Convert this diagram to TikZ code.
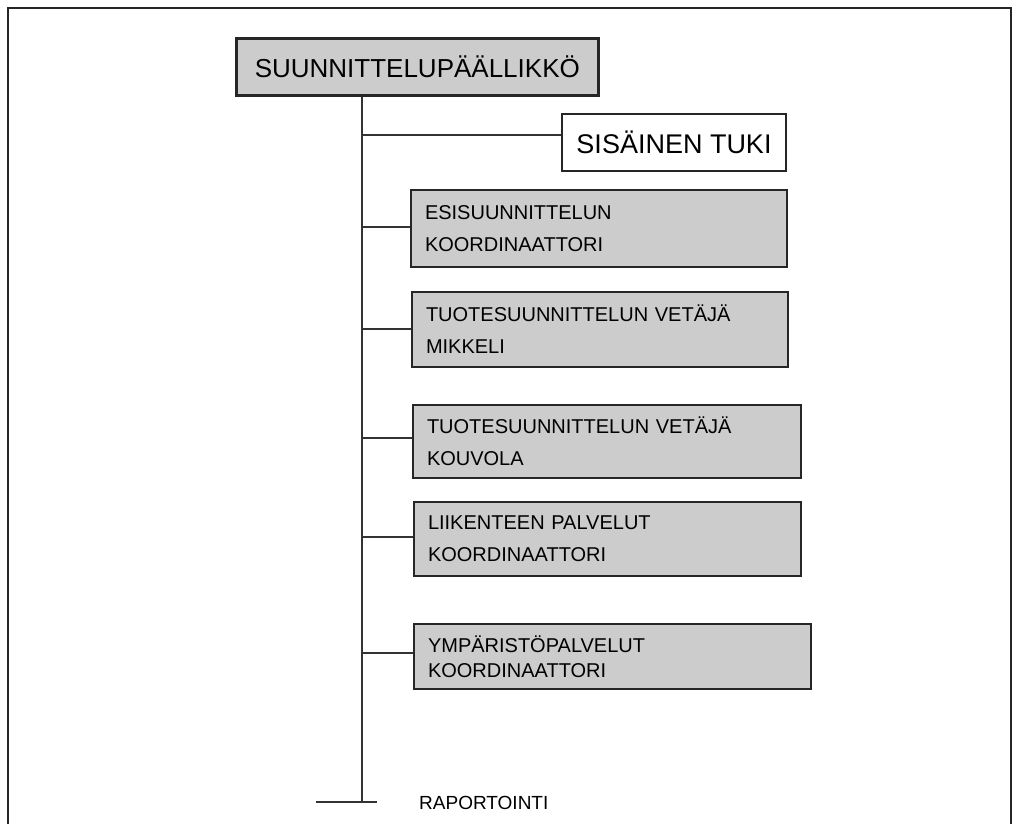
\documentclass[tikz,border=0pt]{standalone}
\usepackage{fontspec}
\setmainfont{Liberation Sans}
\usetikzlibrary{positioning}

\begin{document}
\begin{tikzpicture}[
  x=1pt,y=-1pt,
  box/.style={draw=black!85,line width=2pt,inner sep=0pt,anchor=north west},
  head/.style={box,line width=2.6pt,fill=black!20,minimum width=362pt,
    minimum height=57pt,font=\fontsize{26}{30}\selectfont},
  plain/.style={box,fill=white,minimum width=224pt,minimum height=57pt,
    font=\fontsize{27}{30}\selectfont},
  unit/.style={box,fill=black!20,align=left,inner xsep=14pt,text width=#1,
    font=\fontsize{20}{32}\selectfont},
  link/.style={draw=black!80,line width=1.5pt},
  frame/.style={draw=black!85,line width=2pt}
]
\path[use as bounding box] (0,0) rectangle (1017,824);
\draw[frame] (8,824) -- (8,8) -- (1011,8) -- (1011,824);

\node[head] (chief) at (235,37) {SUUNNITTELUPÄÄLLIKKÖ};
\node[plain] (support) at (561,113) {SISÄINEN TUKI};
\node[unit=348pt,minimum height=77pt] (pre) at (410,189)
  {ESISUUNNITTELUN\\KOORDINAATTORI};
\node[unit=348pt,minimum height=75pt] (mikkeli) at (411,291)
  {TUOTESUUNNITTELUN VETÄJÄ\\MIKKELI};
\node[unit=360pt,minimum height=73pt] (kouvola) at (412,404)
  {TUOTESUUNNITTELUN VETÄJÄ\\KOUVOLA};
\node[unit=359pt,minimum height=74pt] (traffic) at (413,501)
  {LIIKENTEEN PALVELUT\\KOORDINAATTORI};
\node[unit=369pt,minimum height=65pt] (env) at (413,623)
  {YMPÄRISTÖPALVELUT\\[-7pt]KOORDINAATTORI};

\coordinate (foot) at (362,802);
\draw[link] (chief.south -| foot) -- (foot);
\foreach \y/\n in {135/support,227/pre,329/mikkeli,438/kouvola,537/traffic,653/env}
  \draw[link] (foot |- 0,\y) -- (\n.west |- 0,\y);
\draw[link] ([xshift=-46pt]foot) -- ([xshift=15pt]foot);
\node[anchor=base west,inner sep=0pt,font=\fontsize{19}{22}\selectfont]
  (report) at (419,809) {RAPORTOINTI};
\end{tikzpicture}
\end{document}
